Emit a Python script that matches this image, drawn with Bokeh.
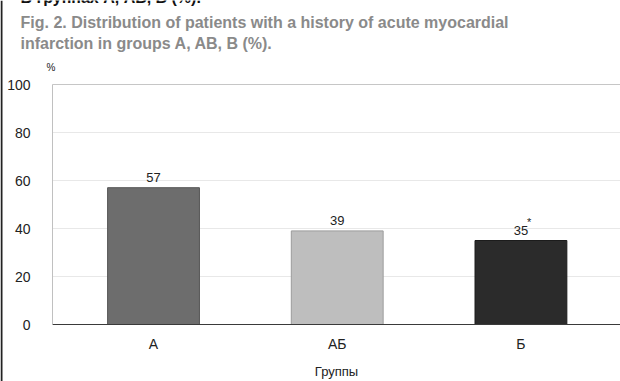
from bokeh.plotting import figure
from bokeh.models import ColumnDataSource, Label, FixedTicker, LinearAxis, BoxAnnotation
from bokeh.embed import file_html
from bokeh.resources import INLINE
from bokeh.core.properties import value

# Share of patients with a history of acute myocardial infarction, by group (%)
groups = ["А", "АБ", "Б"]
shares = [57, 39, 35]
marks = ["", "", "*"]
y_ticks = [0, 20, 40, 60, 80, 100]

bar_fill = ["#6d6d6d", "#bebebe", "#2b2b2b"]
bar_edge = ["#555555", "#9c9c9c", "#1c1c1c"]

heading_ru = "В группах А, АБ, Б (%)."
heading_en = ["Fig. 2. Distribution of patients with a history of acute myocardial",
              "infarction in groups A, AB, B (%)."]

FONT = "Liberation Sans"
W, H = 620, 381

# the frame fills the whole canvas; the axes sit inside it at fixed locations
x_lo, x_hi = -0.833, 2.542
y_lo, y_hi = -23.75, 135.0
axis_x = -0.55

xs = list(range(len(groups)))
src = ColumnDataSource(dict(
    x=xs, share=shares, fill=bar_fill, edge=bar_edge,
    label=[str(v) for v in shares], mark=marks,
))

p = figure(
    width=W, height=H,
    x_range=(x_lo, x_hi), y_range=(y_lo, y_hi),
    x_axis_location=None, y_axis_location=None,
    min_border=0, min_border_left=0, min_border_right=0,
    min_border_top=0, min_border_bottom=0,
    output_backend="svg", toolbar_location=None,
    background_fill_color="white", border_fill_color="white",
)
p.outline_line_color = None
p.grid.visible = False

# horizontal grid lines at the value ticks
p.segment(x0=axis_x, x1=x_hi, y0=y_ticks[1:-1], y1=y_ticks[1:-1],
          line_color="#e8e8e8", line_width=1)
p.segment(x0=axis_x, x1=x_hi, y0=y_ticks[-1:], y1=y_ticks[-1:],
          line_color="#c6c6c6", line_width=1)

p.vbar(x="x", top="share", width=0.5, source=src,
       fill_color="fill", line_color="edge", line_width=1)

# value labels above the bars
p.text(x="x", y="share", text="label", source=src,
       text_align="center", text_baseline="alphabetic", y_offset=-10,
       text_font=value(FONT), text_font_size="13px", text_color="#222222")
p.text(x="x", y="share", text="mark", source=src,
       text_align="left", text_baseline="alphabetic", x_offset=6, y_offset=-19,
       text_font=value(FONT), text_font_size="11px", text_color="#222222")

# category axis
xaxis = LinearAxis(fixed_location=0, bounds=(axis_x, x_hi))
xaxis.ticker = FixedTicker(ticks=xs)
xaxis.major_label_overrides = {i: g for i, g in zip(xs, groups)}
xaxis.axis_label = "Группы"
xaxis.axis_line_color = "#3a3a3a"
xaxis.axis_line_width = 1
xaxis.major_tick_line_color = None
xaxis.minor_tick_line_color = None
xaxis.major_label_standoff = 5
xaxis.axis_label_standoff = 9
xaxis.major_label_text_font = FONT
xaxis.major_label_text_font_size = "14px"
xaxis.major_label_text_color = "#222222"
xaxis.axis_label_text_font = FONT
xaxis.axis_label_text_font_size = "13px"
xaxis.axis_label_text_font_style = "normal"
xaxis.axis_label_text_color = "#222222"
p.add_layout(xaxis, "below")

# value axis
yaxis = LinearAxis(fixed_location=axis_x, bounds=(y_ticks[0], y_ticks[-1]))
yaxis.ticker = FixedTicker(ticks=y_ticks)
yaxis.axis_line_color = "#c0c0c0"
yaxis.major_tick_line_color = None
yaxis.minor_tick_line_color = None
yaxis.major_label_standoff = 16
yaxis.major_label_text_font = FONT
yaxis.major_label_text_font_size = "14px"
yaxis.major_label_text_color = "#222222"
p.add_layout(yaxis, "left")

# unit label over the value axis
p.add_layout(Label(x=46, y=H - 67, x_units="screen", y_units="screen", text="%",
                   text_font=FONT, text_font_size="10px", text_color="#222222",
                   text_align="left", text_baseline="alphabetic"))

# headings
p.add_layout(Label(x=20, y=H + 3, x_units="screen", y_units="screen", text=heading_ru,
                   text_font=FONT, text_font_size="16px", text_font_style="bold",
                   text_color="#111111", text_align="left", text_baseline="alphabetic"))
for i, line in enumerate(heading_en):
    p.add_layout(Label(x=20, y=H - 22 - 21 * i, x_units="screen", y_units="screen", text=line,
                       text_font=FONT, text_font_size="16px", text_font_style="bold",
                       text_color="#8a8a8a", text_align="left", text_baseline="alphabetic"))

# left page rule
p.add_layout(BoxAnnotation(left=0, right=2, bottom=0, top=H,
                           left_units="screen", right_units="screen",
                           bottom_units="screen", top_units="screen",
                           fill_color="#222222", fill_alpha=1, line_color=None))

open("out.html", "w").write(file_html(p, INLINE))
